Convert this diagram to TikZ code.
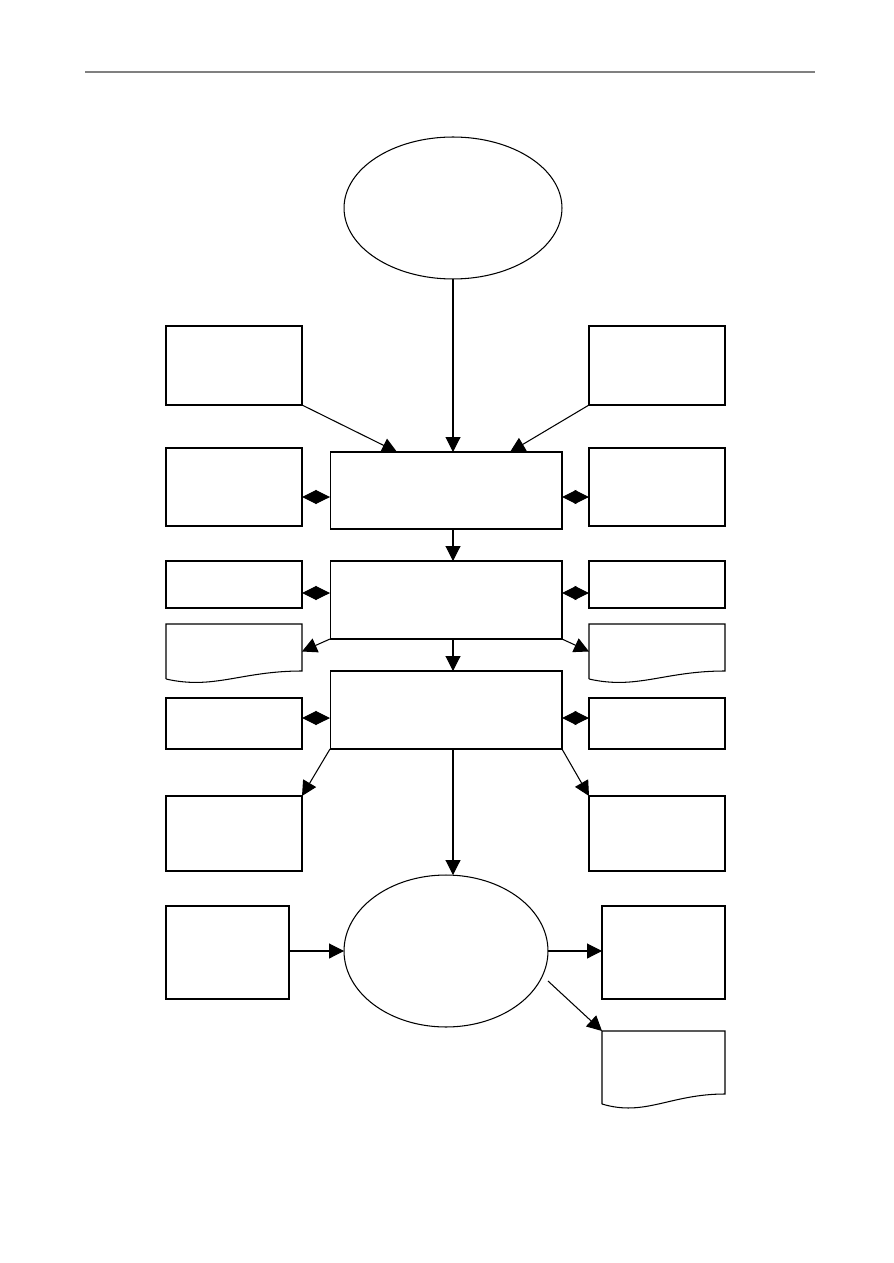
\documentclass[tikz,border=0pt]{standalone}
\definecolor{rulegray}{HTML}{808080}
\usepackage{tikz}
\usetikzlibrary{arrows.meta, shapes.geometric, calc, positioning}

\tikzset{
   box/.style={draw, rectangle, inner sep=0pt, outer sep=0pt, line width=0.6pt},
   docbox/.style={rectangle, inner sep=0pt, outer sep=0pt, minimum width=2.72cm},
   oval/.style={draw, ellipse, inner sep=0pt, outer sep=0pt, line width=0.6pt},
   flow/.style={-{Triangle[length=8.5pt, width=8.5pt]}, line width=0.6pt},
   both/.style={{Triangle[length=8.2pt, width=8pt]}-{Triangle[length=8.2pt, width=8pt]}, line width=0.6pt}
}

\begin{document}
\begin{tikzpicture}[x=0.02cm, y=-0.02cm]
            \useasboundingbox (0,0) rectangle (893,1263);
            % Header rule
            \draw[rulegray, line width=0.6pt] (85,72) -- (815,72);
            % Start ellipse
            \node[oval, minimum width=4.36cm, minimum height=2.84cm] (start) at (453,208) {};
            % Top side boxes
            \node[box, minimum width=2.72cm, minimum height=1.58cm] (ltop) at (234,365.5) {};
            \node[box, minimum width=2.72cm, minimum height=1.58cm] (rtop) at (657,365.5) {};
            % Main steps
            \node[box, minimum width=4.64cm, minimum height=1.54cm] (stepA) at (446,490.5) {};
            \node[box, minimum width=4.64cm, minimum height=1.56cm] (stepB) at (446,600) {};
            \node[box, minimum width=4.64cm, minimum height=1.56cm] (stepC) at (446,710) {};
            % Side boxes of step A
            \node[box, minimum width=2.72cm, minimum height=1.56cm] (lA) at (234,487) {};
            \node[box, minimum width=2.72cm, minimum height=1.56cm] (rA) at (657,487) {};
            % Side boxes of step B
            \node[box, minimum width=2.72cm, minimum height=0.94cm] (lB) at (234,584.5) {};
            \node[box, minimum width=2.72cm, minimum height=0.94cm] (rB) at (657,584.5) {};
            \node[docbox, minimum height=1.1cm] (ldocB) at (234,651.5) {};
            \node[docbox, minimum height=1.1cm] (rdocB) at (657,651.5) {};
            % Side boxes of step C
            \node[box, minimum width=2.72cm, minimum height=1.02cm] (lC) at (234,723.5) {};
            \node[box, minimum width=2.72cm, minimum height=1.02cm] (rC) at (657,723.5) {};
            \node[box, minimum width=2.72cm, minimum height=1.5cm] (loutC) at (234,833.5) {};
            \node[box, minimum width=2.72cm, minimum height=1.5cm] (routC) at (657,833.5) {};
            % End ellipse and its boxes
            \node[oval, minimum width=4.08cm, minimum height=3.04cm] (finish) at (446,951) {};
            \node[box, minimum width=2.46cm, minimum height=1.86cm] (lin) at (227.5,952.5) {};
            \node[box, minimum width=2.46cm, minimum height=1.86cm] (rout) at (663.5,952.5) {};
            \node[docbox, minimum width=2.46cm, minimum height=1.46cm] (rdocEnd) at (663.5,1067.5) {};
            % Document outlines (wavy bottom)
            \draw[line width=0.6pt] (ldocB.south west) -- (ldocB.north west) -- (ldocB.north east)
               -- ($(ldocB.south east)+(0,-8)$)
               .. controls ($(ldocB.south east)+(-61,-8)$) and ($(ldocB.south west)+(48,11)$) .. (ldocB.south west);
            \draw[line width=0.6pt] (rdocB.south west) -- (rdocB.north west) -- (rdocB.north east)
               -- ($(rdocB.south east)+(0,-8)$)
               .. controls ($(rdocB.south east)+(-61,-8)$) and ($(rdocB.south west)+(48,11)$) .. (rdocB.south west);
            \draw[line width=0.6pt] (rdocEnd.south west) -- (rdocEnd.north west) -- (rdocEnd.north east)
               -- ($(rdocEnd.south east)+(0,-10)$)
               .. controls ($(rdocEnd.south east)+(-55,-10)$) and ($(rdocEnd.south west)+(43,13)$) .. (rdocEnd.south west);
            % Main flow
            \draw[flow] (start.south) -- (start.south |- stepA.north);
            \draw[flow] (start.south |- stepA.south) -- (start.south |- stepB.north);
            \draw[flow] (start.south |- stepB.south) -- (start.south |- stepC.north);
            \draw[flow] (start.south |- stepC.south) -- (start.south |- finish.north);
            % Into step A
            \draw[flow] (ltop.south east) -- ($(stepA.north)+(-49,0)$);
            \draw[flow] (rtop.south west) -- ($(stepA.north)+(64,0)$);
            % Two-way links
            \draw[both] ($(lA.east)+(0,10)$) -- ($(stepA.west)+(0,6.5)$);
            \draw[both] ($(rA.west)+(0,10)$) -- ($(stepA.east)+(0,6.5)$);
            \draw[both] ($(lB.east)+(0,8.5)$) -- ($(stepB.west)+(0,-7)$);
            \draw[both] ($(rB.west)+(0,8.5)$) -- ($(stepB.east)+(0,-7)$);
            \draw[both] ($(lC.east)+(0,-5.5)$) -- ($(stepC.west)+(0,8)$);
            \draw[both] ($(rC.west)+(0,-5.5)$) -- ($(stepC.east)+(0,8)$);
            % Outputs of steps B and C
            \draw[flow] (stepB.south west) -- (ldocB.east);
            \draw[flow] (stepB.south east) -- (rdocB.west);
            \draw[flow] (stepC.south west) -- (loutC.north east);
            \draw[flow] (stepC.south east) -- (routC.north west);
            % Around the end ellipse
            \draw[flow] (finish.west -| lin.east) -- (finish.west);
            \draw[flow] (finish.east) -- (finish.east -| rout.west);
            \draw[flow] ($(finish.east)+(0,30)$) -- (rdocEnd.north west);
         \end{tikzpicture}
\end{document}
